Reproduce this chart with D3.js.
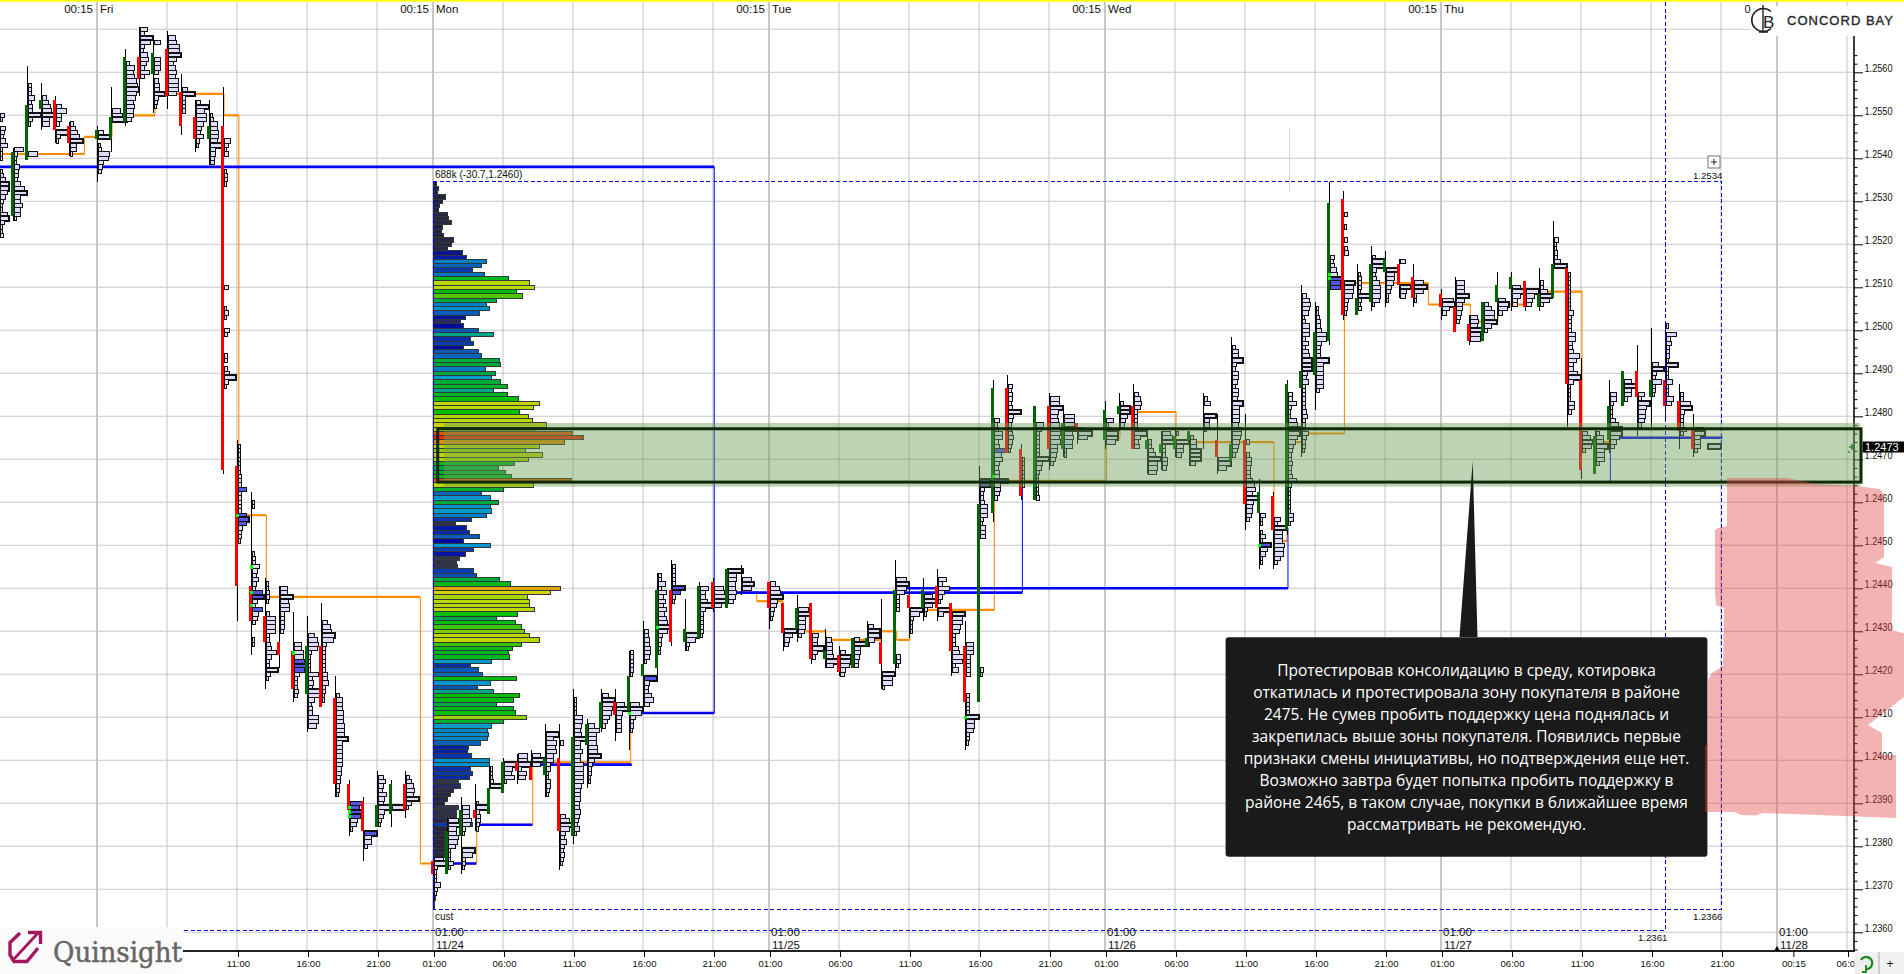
<!DOCTYPE html>
<html><head><meta charset="utf-8">
<script src="https://cdn.jsdelivr.net/npm/d3@7"></script>
<style>
html,body{margin:0;padding:0;background:#fff;overflow:hidden}
svg{display:block}
text{font-family:"Liberation Sans",Arial,sans-serif;fill:#111}
</style></head><body>
<svg id="c" width="1904" height="974"></svg>
<script>
// ---- session hour index: 0 = Fri 01:00, 24 = Mon 01:00, 48 = Tue, 72 = Wed, 96 = Thu, 120 = Fri 11/28
// ---- hourly bars: [hour, high, low, open, close, row volumes from high downward in base 36]; prices in 1/10000
const friBars = [
[-7,12550,12522,0,0,"42154357222112358875322784223"],
[-6,12542,12526,12527,12541,"932254436ac668662"],
[-5,12561,12540,12540,12552,"11113336344c4211111191"],
[-4,12557,12547,12552,12553,"1114689b771"],
[-3,12554,12544,12553,12547,"115a5531c42"],
[-2,12548,12541,12547,12544,"3579c662"],
[0,12547,12535,12545,12546,"15c123ba54311"],
[1,12556,12542,12545,12549,"111118ae1111111"],
[2,12565,12548,12549,12563,"1113878abca9787751"],
[3,12570,12555,12563,12559,"74ca437864941111"],
[4,12568,12551,12560,12564,"1611166641455a4321"],
[5,12569,12552,12565,12555,"178bbc85787aaa8111"],
[6,12559,12546,12555,12548,"1115c333311111"],
[7,12553,12542,12549,12545,"4c8aa7547321"],
[8,12553,12539,12545,12547,"1112377887c5544"],
[9,12556,12467,12547,12468,"111111111111"+"6424"+"111"+"2332"+"11111111111111111111111"+"4"+"1111"+"242"+"11"+"53"+"1111"+"33135b42"+"11111111111111111111"],
[10,12474,12433,12468,12441,"122222223338333338a84332"+"111111111111111111"],
[11,12462,12425,12440,12433,"1122"+"1111111"+"111"+"23375464"+"3ab53a653"+"111"+"22"+"11"],
[12,12442,12417,12433,12428,"12233211"+"39999"+"3345a533b4211"],
[13,12440,12422,12427,12425,"77c899"+"4444"+"3"+"11111111"],
[14,12434,12414,12425,12417,"1111111"+"7799aca5333431"],
[15,12433,12407,12416,12426,"1111"+"69a932222a454cb6344aa81"],
[16,12436,12413,12426,12413,"1111"+"589cb433333355633221"],
[17,12419,12392,12414,12395,"1111"+"3666777888b"+"666666"+"5544332"],
[18,12395,12383,12394,12389,"11111b9ca7621"],
[19,12391,12377,12390,12384,"11111111c773111"],
[20,12397,12385,12385,12389,"15754865c6532"],
[21,12395,12385,12388,12394,"111111c1111"],
[22,12397,12387,12394,12389,"135787c5211"]
];
const monBars = [
[24,12377,12366,12376,12374,"9c3222632111"],
[25,12386,12374,12374,12383,"ac88a97222521"],
[26,12391,12374,12383,12388,"117779832111ca3321"],
[27,12394,12384,12388,12387,"11112c34432"],
[28,12398,12388,12388,12393,"2223c111111"],
[29,12400,12393,12393,12399,"1c87a211"],
[30,12401,12395,12399,12398,"99c3871"],
[31,12402,12396,12398,12396,"18b8111"],
[32,12408,12392,12397,12400,"11c7a9a7744224432"],
[33,12408,12375,12400,12384,"111131111111111111111"+"59c9546434321"],
[34,12416,12381,12383,12405,"112222"+"88767"+"c66866"+"99999"+"766655"+"65435211"],
[35,12409,12394,12404,12408,"16b88899c6433221"],
[36,12416,12407,12408,12413,"16cba97531"],
[37,12416,12405,12413,12411,"1118c6555511"],
[38,12425,12403,12412,12419,"333332111111"+"9cb53321111"],
[39,12432,12412,12420,12422,"1144556652"+"111"+"c544795"+"1"],
[40,12443,12419,12422,12439,"337385758689c943322111111"],
[41,12446,12427,12439,12428,"133333c832"+"1111111111"],
[42,12437,12426,12428,12430,"11111111c932"],
[43,12441,12429,12429,12440,"18557c5333332"],
[44,12442,12435,12441,12436,"119abc71"],
[45,12444,12436,12436,12444,"e88778751"],
[46,12445,12439,0,0,"1119b91"]
];
const tueBars = [
[48,12441,12431,12441,12436,"59ac7643211"],
[49,12436,12426,12436,12430,"111111c8541"],
[50,12438,12428,12431,12435,"111ab777631"],
[51,12436,12423,12436,12424,"1111111"+"655b531"],
[52,12430,12422,12424,12425,"1156667c7"],
[53,12426,12420,12424,12421,"15aa954"],
[54,12428,12422,12422,12428,"5e66544"],
[55,12432,12427,12427,12428,"15bb61"],
[56,12437,12417,12427,12423,"11111111111111111"+"caa2"],
[57,12446,12420,12423,12439,"1111"+"aca83333"+"1111111111"+"44211"],
[58,12441,12429,12438,12436,"111111c932221"],
[59,12442,12433,12436,12439,"11118b8321"],
[60,12444,12433,12440,12436,"1184b6421c51"],
[61,12436,12420,12436,12426,"11caa8733367ba361"],
[62,12432,12403,12426,12414,"11111"+"77744444"+"1111"+"33333c8873321"],
[63,12468,12414,12414,12459,"11199433477732555"+"111111111111111111111111111111"+"32"+"111111"],
[64,12488,12456,12458,12486,"111111111"+"5348845c785455d6653"+"11111"],
[65,12489,12472,12486,12472,"11434434c543345432"],
[66,12473,12461,12472,12462,"1112222222111"],
[67,12482,12461,12461,12482,"1111"+"75333333c653222223"],
[68,12485,12468,12482,12473,"199c8789aa9a776531"],
[69,12481,12471,12473,12478,"1aaac898822"],
[70,12478,12474,12478,12477,"14d91"]
];
const wedBars = [
[72,12483,12473,12475,12481,"1111725bb91"],
[73,12485,12477,12481,12482,"113997541"],
[74,12487,12473,12482,12473,"11467633333c645"],
[75,12475,12467,12473,12474,"13357c998"],
[76,12476,12468,12472,12473,"8ac333554"],
[77,12477,12471,12473,12475,"121c775"],
[78,12476,12469,12475,12476,"1366aaa5"],
[79,12485,12473,0,0,"13611b5521111"],
[80,12480,12467,12474,12471,"1111111111bc81"],
[81,12498,12469,12470,12473,"11366a436653665a77776998765311"],
[82,12480,12454,12474,12460,"111111"+"3113554446896c7665311"],
[83,12465,12445,12458,12462,"11111111"+"5221252a75221"],
[84,12462,12445,12461,12454,"111111"+"63b888a99631"],
[85,12488,12453,12454,12487,"11144832289bb975"+"433433483"+"222222"+"55211"],
[86,12510,12471,12487,12490,"114787623777"+"36367999"+"546333333"+"45333643321"],
[87,12506,12482,12490,12499,"1223445aa5444c77777731111"],
[88,12534,12497,12498,12529,"11111111111111111"+"43467caa"+"1111111111111"],
[89,12532,12503,12530,12504,"11111"+"3"+"11"+"2"+"11"+"3"+"1"+"34"+"111111"+"a99843321"],
[90,12515,12504,12504,12507,"1123332c3231"],
[91,12519,12505,12507,12515,"113bb4347888721"],
[92,12518,12506,12514,12516,"1111c88754221"],
[93,12516,12508,12515,12511,"511111a65"],
[94,12515,12506,12512,12508,"11119c9221"]
];
const thuBars = [
[96,12509,12503,12508,12506,"11bc741"],
[97,12512,12500,12505,12500,"1888c86654311"],
[98,12503,12497,12501,12498,"787caa1"],
[99,12506,12498,12498,12506,"47aac7311"],
[100,12513,12503,12507,12510,"111111"+"7a941"],
[101,12513,12505,12510,12512,"1118c8551"],
[102,12511,12505,12511,12506,"11c8651"],
[103,12514,12505,12506,12508,"111337b931"],
[104,12525,12508,12508,12515,"1111"+"422336c"+"1111111"],
[105,12514,12478,12514,12488,"1"+"222222222"+"5"+"3333"+"77445b8559c5"+"2222"+"663111"],
[106,12493,12466,12488,12468,"11111111111111111"+"58a93"+"111111"],
[107,12477,12467,12467,12475,"1377b888311"],
[108,12488,12472,12475,12482,"11166322258bb9641"],
[109,12490,12483,12483,12490,"117b7731"],
[110,12496,12476,12490,12485,"11111111111"+"63b8776311"],
[111,12500,12478,12485,12488,"11111111"+"6b439332"+"1111111"],
[112,12501,12480,12488,12483,"21a453332b222622275111"],
[113,12487,12473,12483,12477,"1133ab433363111"],
[114,12480,12471,12477,12473,"1119a66631"],
[115,12473,12473,0,0,"c"]
];
// rows shown in blue, and small green markers: [hour, price]
const blueRows = [[10,12463],[10,12457],[10,12456],[10,12455],[11,12439],[11,12438],[11,12435],[14,12423],[14,12422],[14,12421],
[18,12390],[18,12389],[18,12388],[18,12387],[19,12383],[39,12419],[41,12440],[41,12439],[63,12465],[63,12464],[64,12472],[64,12465],[83,12450],[88,12512],[88,12511],[88,12510]];
const greenDots = [[10,12457],[11,12445],[11,12439],[11,12436],[14,12425],[18,12389],[18,12388],[18,12387],[38,12411],[40,12431],[62,12410],[64,12466],[83,12450],[88,12513],[88,12512]];
// composite profile (Mon top) volumes from 1.2534 down to 1.2366
const compositeTop = 12534;
const compositeVolumes = [3,5,4,12,9,6,5,14,15,18,9,8,10,20,18,14,29,33,53,48,39,51,75,96,101,83,89,63,53,56,46,32,27,30,45,60,37,40,30,45,48,66,67,52,62,58,67,74,60,74,85,106,100,86,95,99,113,101,139,150,131,106,92,109,95,81,65,72,78,138,100,70,48,57,65,57,58,53,38,
22,33,36,46,30,57,40,32,26,23,24,40,43,66,77,127,117,94,96,96,101,84,63,82,88,91,96,106,88,79,75,76,58,37,45,49,83,57,44,60,86,80,63,80,82,93,70,58,54,55,54,47,35,34,38,56,56,37,39,36,25,27,20,17,14,11,25,23,23,13,39,14,11,11,11,11,11,11,10,6,4,3,2,3,3,2,2,2,1,1];
// developing POC step line: [hour, price]
const orangeSteps = [[-7,1.2541],[-0.9,1.2545],[1.07,1.2550],[4.14,1.2555],[9.07,1.2550],[10.13,1.2457],[12.1,1.2438],[23.1,1.2376],[27.12,1.2385],[31.12,1.23995],[38.12,1.2411],[44.09,1.2439],[47.12,1.2437],[49,1.2430],[52.07,1.2428],[56,1.2430],[57.12,1.2428],[58.06,1.2435],[64.1,1.2465],[72.1,1.2475],[73.07,1.2481],[77.07,1.2474],[84.07,1.2451],[85,1.2474],[86.3,1.2476],[89.1,1.2511],[95.1,1.2506],[98.1,1.2502],[100.07,1.2506],[101.9,1.2509],[106.07,1.2474],[108,1.2475],[116.1,1.2475]];
// naked POC levels: [from hour, to hour, price]
const blueLevels = [[-7,44.09,1.2538],[38.8,44.09,1.2411],[44.6,66.1,1.2439],[57.8,85.07,1.2440],[31.6,38.2,1.2399],[27.2,31.1,1.2385],[24.8,27.1,1.2376],[108.1,116.1,1.2475]];
const blueThinLevels = [[66.1,112.04,1.24648]];
const blueLinks = [[44.09,1.2538,1.2411],[66.1,1.2439,1.24648],[85.07,1.2440,1.2454],[108.1,1.24648,1.2475]];
// axes
const priceTicks = [1.2570,1.2560,1.2550,1.2540,1.2530,1.2520,1.2510,1.2500,1.2490,1.2480,1.2470,1.2460,1.2450,1.2440,1.2430,1.2420,1.2410,1.2400,1.2390,1.2380,1.2370,1.2360];
const timeTickHours = [10,15,20,24,29,34,39,44,48,53,58,63,68,72,77,82,87,92,96,101,106,111,116,121.1,125];
const timeTickLabels = ["11:00","16:00","21:00","01:00","06:00","11:00","16:00","21:00","01:00","06:00","11:00","16:00","21:00","01:00","06:00","11:00","16:00","21:00","01:00","06:00","11:00","16:00","21:00","00:15","06:00"];
const minorGridHours = [5,10,15,20,29,34,39,44,53,58,63,68,77,82,87,92,101,106,111,116,125];
const majorGridHours = [0,24,48,72,96,120];
const dayNames = ["Fri","Mon","Tue","Wed","Thu"];
const dayDates = [[24,"11/24"],[48,"11/25"],[72,"11/26"],[96,"11/27"],[120,"11/28"]];
const zonePrices = [1.24771,1.24647];
const calloutLines = ["Протестировав консолидацию в среду, котировка","откатилась и протестировала зону покупателя в районе","2475. Не сумев пробить поддержку цена поднялась и","закрепилась выше зоны покупателя. Появились первые","признаки смены инициативы, но подтверждения еще нет.","Возможно завтра будет попытка пробить поддержку в","районе 2465, в таком случае, покупки в ближайшее время","рассматривать не рекомендую."];
const lastPrice = 1.2473;

const W=1904,H=974;
const svg=d3.select("#c");
const x=d3.scaleLinear().domain([0,24]).range([97,433]);
const y=d3.scaleLinear().domain([1.2560,1.2360]).range([72.3,932.3]);
const tick=v=>y(v/10000);
const rowH=Math.abs(y(1.2560)-y(1.2559));
const volW=d3.scaleLinear().domain([0,150]).range([0,150]);
const heat=d3.scaleLinear()
 .domain([0,20,26,30,37,45,50,56,59,61,67,75,86,92,96,110,118,128,139,150])
 .range(["#221a38","#2c2844","#353548","#000a9e","#0a2fa8","#0a58b8","#0a70c0","#0090cc","#00a0c8","#00a848","#00aa38","#00b820","#08c000","#98cc00","#b8d800","#c8d400","#d8d000","#e0a000","#e85000","#ff2000"])
 .clamp(true);
const gridCol="#c8c8c8";
const bottomY=951, axisX=1854;

svg.append("rect").attr("width",W).attr("height",H).attr("fill","#fff");
svg.append("rect").attr("width",W).attr("height",1.6).attr("fill","#ffff00");

// grid
const g=svg.append("g");
g.selectAll(".h").data(priceTicks).join("line").attr("x1",0).attr("x2",axisX).attr("y1",d=>y(d)).attr("y2",d=>y(d)).attr("stroke",gridCol).attr("stroke-width",1.1);
g.selectAll(".v").data(minorGridHours).join("line").attr("x1",d=>x(d)).attr("x2",d=>x(d)).attr("y1",2).attr("y2",bottomY).attr("stroke",gridCol).attr("stroke-width",1.1);
g.selectAll(".m").data(majorGridHours).join("line").attr("x1",d=>x(d)).attr("x2",d=>x(d)).attr("y1",2).attr("y2",bottomY).attr("stroke",gridCol).attr("stroke-width",2);

// top labels
majorGridHours.slice(0,5).forEach((h,i)=>{
 svg.append("text").attr("x",x(h)-4).attr("y",13).attr("text-anchor","end").attr("font-size",11.5).text("00:15");
 svg.append("text").attr("x",x(h)+3).attr("y",13).attr("font-size",11.5).text(dayNames[i]);
});
dayDates.forEach(([h,d])=>{
 svg.append("text").attr("x",x(h)+2).attr("y",936).attr("font-size",11.5).text("01:00");
 svg.append("text").attr("x",x(h)+3).attr("y",948.5).attr("font-size",11.5).text(d);
});

// composite profile
svg.append("g").attr("shape-rendering","crispEdges").selectAll("rect").data(compositeVolumes).join("rect")
 .attr("x",x(24)+0.5).attr("y",(d,i)=>tick(compositeTop-i)-rowH/2)
 .attr("width",d=>volW(d)).attr("height",rowH)
 .attr("fill",d=>heat(d)).attr("stroke","#2e3a3a").attr("stroke-width",1);

// orange step line
const o=svg.append("g").attr("stroke","#ff8c00").attr("fill","none");
orangeSteps.slice(0,-1).forEach((p,i)=>{
 const n=orangeSteps[i+1];
 o.append("line").attr("x1",x(p[0])).attr("x2",x(n[0])).attr("y1",y(p[1])).attr("y2",y(p[1])).attr("stroke-width",2.2);
 if(p[1]!==n[1]) o.append("line").attr("x1",x(n[0])).attr("x2",x(n[0])).attr("y1",y(p[1])).attr("y2",y(n[1])).attr("stroke-width",1.1);
});
// blue levels
const b=svg.append("g").attr("stroke","#0000ff").attr("fill","none");
b.selectAll(".a").data(blueLevels).join("line").attr("x1",d=>x(d[0])).attr("x2",d=>x(d[1])).attr("y1",d=>y(d[2])).attr("y2",d=>y(d[2])).attr("stroke-width",2.6);
b.selectAll(".b").data(blueThinLevels).join("line").attr("x1",d=>x(d[0])).attr("x2",d=>x(d[1])).attr("y1",d=>y(d[2])).attr("y2",d=>y(d[2])).attr("stroke-width",1.3);
b.selectAll(".c").data(blueLinks).join("line").attr("x1",d=>x(d[0])).attr("x2",d=>x(d[0])).attr("y1",d=>y(d[1])).attr("y2",d=>y(d[2])).attr("stroke-width",1);

// hourly profile bars
const bars=[...friBars,...monBars,...tueBars,...wedBars,...thuBars];
const isBlue=new Set(blueRows.map(r=>r[0]+"_"+r[1]));
const barG=svg.append("g").attr("shape-rendering","crispEdges");
bars.forEach(([h,hi,lo,op,cl,vols])=>{
 const rows=vols.split("").map(c=>parseInt(c,36));
 const mx=d3.max(rows);
 const x0=x(h);
 barG.append("line").attr("x1",x0+0.9).attr("x2",x0+0.9).attr("y1",tick(hi)-rowH/2).attr("y2",tick(lo)+rowH/2).attr("stroke","#000").attr("stroke-width",1);
 rows.forEach((w,i)=>{
  if(w<=1) return;
  const p=hi-i;
  barG.append("rect").attr("x",x0+1).attr("y",tick(p)-rowH/2).attr("width",volW(w)+0.5).attr("height",rowH)
   .attr("fill",isBlue.has(h+"_"+p)?"#5555e6":"#dcdcfa").attr("stroke","#111").attr("stroke-width",(w===mx&&w>=6)?2:1);
 });
 if(op!==cl){
  const t=Math.max(op,cl),bt=Math.min(op,cl);
  barG.append("rect").attr("x",x0-2).attr("width",3).attr("y",tick(t)-rowH/2).attr("height",tick(bt)-tick(t)+rowH)
   .attr("fill",cl>op?"#006400":"#ff0000");
 }
});
barG.selectAll(".d").data(greenDots).join("rect").attr("x",d=>x(d[0])-1).attr("y",d=>tick(d[1])-1.5).attr("width",3.2).attr("height",3.2).attr("fill","#00ff00");

// dashed ranges
const dash=svg.append("g").attr("stroke","#0000e6").attr("stroke-width",1).attr("stroke-dasharray","4,2.5").attr("fill","none").attr("shape-rendering","crispEdges");
const boxHi=tick(12534)-rowH*0.65,boxLo=tick(12366)+rowH*0.65,lowLine=tick(12361)+rowH*0.55;
dash.append("path").attr("d",`M${x(24)},${boxHi}H${x(116)+0.6}V${boxLo}H${x(24)}V${boxHi}`);
dash.append("path").attr("d",`M${x(112)},2V${lowLine}H183`);
const lbl=(tx,ty,t,a)=>svg.append("text").attr("x",tx).attr("y",ty).attr("font-size",a||10).attr("fill","#111").text(t);
lbl(435,178,"688k (-30.7,1.2460)",10);
lbl(435,920,"cust",10);
lbl(1693,179,"1.2534",9.6);
lbl(1693,920,"1.2366",9.6);
lbl(1638,941,"1.2361",9.6);
svg.append("rect").attr("x",1708).attr("y",156).attr("width",12).attr("height",12).attr("fill","#fff").attr("stroke","#777");
svg.append("path").attr("d","M1711,162H1717M1714,159V165").attr("stroke","#222").attr("stroke-width",1);
svg.append("line").attr("x1",1289.6).attr("x2",1289.6).attr("y1",128).attr("y2",192).attr("stroke","#f6c4c4").attr("stroke-width",1);

// axes
const ay=d3.axisRight(y).tickValues(priceTicks.slice(1)).tickSize(9).tickFormat(d3.format(".4f"));
const axR=svg.append("g").attr("transform",`translate(${axisX},0)`).call(ay);
axR.select(".domain").attr("d",`M0,36V${bottomY}`).attr("stroke","#000").attr("stroke-width",1.5);
axR.selectAll("line").attr("stroke","#000");
axR.selectAll("text").attr("x",10.5).attr("dy","-0.05em").attr("font-size",10).attr("font-family","Liberation Sans").attr("fill","#111").attr("textLength",28).attr("lengthAdjust","spacingAndGlyphs");
const minor=d3.range(12356,12566,2).filter(v=>v%10!==0).map(v=>v/10000);
const ay2=d3.axisRight(y).tickValues(minor).tickSize(3.5).tickFormat("");
const axR2=svg.append("g").attr("transform",`translate(${axisX},0)`).call(ay2);
axR2.select(".domain").remove();axR2.selectAll("line").attr("stroke","#000");

const ax=d3.axisBottom(x).tickValues(timeTickHours).tickSize(6).tickFormat((d,i)=>timeTickLabels[i]);
const axB=svg.append("g").attr("transform",`translate(1,${bottomY})`).call(ax);
axB.select(".domain").attr("d",`M182,0H${axisX}`).attr("stroke","#222").attr("stroke-width",2);
axB.selectAll("line").attr("stroke","#000");
axB.selectAll("text").attr("y",13).attr("dy","0.32em").attr("font-size",9.6).attr("font-family","Liberation Sans").attr("fill","#111");
svg.append("path").attr("d",d3.line()([[1777,946],[1780,951],[1774,951]])+"Z").attr("fill","#000");

// last price
svg.append("rect").attr("x",1862.6).attr("y",441.5).attr("width",42).attr("height",11).attr("fill","#000");
svg.append("text").attr("x",1865).attr("y",451).attr("font-size",11).attr("style","fill:#fff").text(lastPrice.toFixed(4));
svg.append("path").attr("d","M1849,447H1853M1852,444V450M1848,452h2").attr("stroke","#0a7a0a").attr("stroke-width",1.6);

// value zone
svg.append("rect").attr("x",444).attr("y",423).attr("width",1860.5-444).attr("height",63.7).attr("fill","rgba(106,159,88,.45)");
svg.append("rect").attr("x",x(24)+4.7).attr("y",y(zonePrices[0])).attr("width",1861-437.7).attr("height",y(zonePrices[1])-y(zonePrices[0]))
 .attr("fill","none").attr("stroke","#0f2a0a").attr("stroke-width",3);

// callout
svg.append("path").attr("d","M1472.7,461L1477.5,637L1459.5,637Z").attr("fill","#1a1a1a");
svg.append("rect").attr("x",1225.6).attr("y",637.3).attr("width",481.8).attr("height",219.4).attr("rx",3).attr("fill","#1a1a1a");
svg.append("g").selectAll("text").data(calloutLines).join("text").attr("x",1466.5).attr("y",(d,i)=>671+i*22).attr("dy","0.35em")
 .attr("text-anchor","middle").attr("style",'fill:#fff;font-family:"Open Sans"').attr("font-size",15.5).text(d=>d);

// pink hand-drawn area
const pink=[[1727,478],[1787,478],[1817,484],[1857,486],[1880,489],[1884,495],[1884,557],[1875,563],[1892,567],[1892,630],[1904,633.5],[1904,697],[1868,725],[1882,733],[1882,755],[1896,755],[1896,818],[1763,813],[1755,815.5],[1741,815],[1735,812],[1705,812],[1705,746],[1708,744],[1708,680],[1712,673],[1720,668],[1723,665],[1724,608],[1716,605],[1715,593],[1715,530],[1718,528],[1727,526]];
svg.append("path").attr("d",d3.line()(pink)+"Z").attr("fill","rgba(228,65,65,.4)");

// bottom right buttons
svg.append("rect").attr("x",axisX+0.5).attr("y",952).attr("width",50).attr("height",22).attr("fill","#f0f0f0");
svg.append("line").attr("x1",1879).attr("x2",1879).attr("y1",952).attr("y2",974).attr("stroke","#aaa");
svg.append("path").attr("d","M1861,960a6,6 0 1 1 5,9").attr("fill","none").attr("stroke","#1f8a1f").attr("stroke-width",2.4);
svg.append("path").attr("d","M1866,965v7h-4").attr("fill","none").attr("stroke","#1f8a1f").attr("stroke-width",1.8);
svg.append("text").attr("x",1890).attr("y",968).attr("text-anchor","middle").attr("font-size",12).text("+");

// Concord Bay logo
svg.append("rect").attr("x",1750).attr("y",6).attr("width",147).attr("height",30).attr("fill","#fff");
lbl(1744.5,13,"0",11);
svg.append("path").attr("d","M1771,11.5a11.5,11.5 0 1 0 0,17").attr("fill","none").attr("stroke","#222").attr("stroke-width",1.6);
svg.append("path").attr("d","M1763,5V33M1759,32H1768").attr("stroke","#222").attr("stroke-width",1.4);
svg.append("text").attr("x",1763).attr("y",27.5).attr("font-size",17).attr("style","fill:#222").text("B");
svg.append("text").attr("x",1787).attr("y",25.4).attr("font-size",13).attr("textLength",106).attr("stroke","#26262a").attr("stroke-width",0.35).attr("style","fill:#26262a").text("CONCORD BAY");

// Quinsight logo
svg.append("rect").attr("x",0).attr("y",927).attr("width",183).attr("height",47).attr("fill","#fbfbfb");
const logoCol="#a3185f";
svg.append("path").attr("d","M20,933L10,942.5V955L14,961.5H27L38,948").attr("fill","none").attr("stroke",logoCol).attr("stroke-width",3.4);
svg.append("path").attr("d","M13,960L39,932").attr("stroke",logoCol).attr("stroke-width",2.8);
svg.append("path").attr("d","M28,932.5H40.5V944").attr("fill","none").attr("stroke",logoCol).attr("stroke-width",3.4);
svg.append("text").attr("x",53).attr("y",961.5).attr("font-size",28).attr("textLength",129).attr("lengthAdjust","spacingAndGlyphs")
 .attr("stroke","#666").attr("stroke-width",0.5).attr("style",'fill:#666;font-family:"DejaVu Serif"').text("Quinsight");
</script>
</body></html>
